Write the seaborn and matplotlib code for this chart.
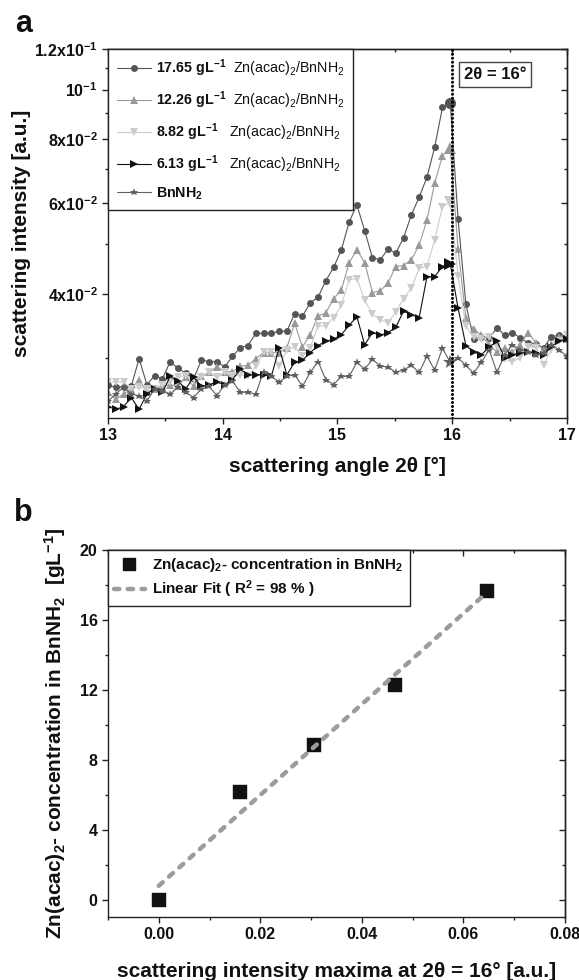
import numpy as np
import matplotlib
matplotlib.use("Agg")
import matplotlib.pyplot as plt
import seaborn as sns
from matplotlib.lines import Line2D
from matplotlib.ticker import FixedLocator, FixedFormatter, NullFormatter

# ---------------- data: panel a ----------------
angle = [13.000, 13.068, 13.136, 13.203, 13.271, 13.339, 13.407, 13.475, 13.542, 13.610,
         13.678, 13.746, 13.814, 13.881, 13.949, 14.017, 14.085, 14.153, 14.220, 14.288,
         14.356, 14.424, 14.492, 14.559, 14.627, 14.695, 14.763, 14.831, 14.898, 14.966,
         15.034, 15.102, 15.169, 15.237, 15.305, 15.373, 15.441, 15.508, 15.576, 15.644,
         15.712, 15.780, 15.847, 15.915, 15.983, 16.051, 16.119, 16.186, 16.254, 16.322,
         16.390, 16.458, 16.525, 16.593, 16.661, 16.729, 16.797, 16.864, 16.932, 17.000]

c1765 = [0.0265, 0.0263, 0.0263, 0.0264, 0.0299, 0.0266, 0.0277, 0.0273, 0.0295, 0.0286,
         0.0280, 0.0273, 0.0297, 0.0295, 0.0295, 0.0288, 0.0302, 0.0314, 0.0317, 0.0335,
         0.0335, 0.0335, 0.0338, 0.0338, 0.0366, 0.0362, 0.0384, 0.0394, 0.0424, 0.0450,
         0.0487, 0.0552, 0.0596, 0.0531, 0.0470, 0.0466, 0.0489, 0.0480, 0.0514, 0.0570,
         0.0617, 0.0675, 0.0772, 0.0923, 0.0940, 0.0560, 0.0382, 0.0326, 0.0330, 0.0328,
         0.0343, 0.0332, 0.0336, 0.0328, 0.0321, 0.0319, 0.0314, 0.0330, 0.0332, 0.0326]

c1226 = [0.0257, 0.0249, 0.0255, 0.0261, 0.0272, 0.0257, 0.0261, 0.0264, 0.0266, 0.0264,
         0.0275, 0.0264, 0.0276, 0.0281, 0.0288, 0.0282, 0.0282, 0.0289, 0.0290, 0.0299,
         0.0307, 0.0307, 0.0307, 0.0314, 0.0350, 0.0315, 0.0333, 0.0362, 0.0367, 0.0391,
         0.0407, 0.0460, 0.0487, 0.0460, 0.0402, 0.0405, 0.0420, 0.0452, 0.0454, 0.0466,
         0.0498, 0.0557, 0.0657, 0.0743, 0.0769, 0.0489, 0.0359, 0.0341, 0.0332, 0.0318,
         0.0308, 0.0314, 0.0308, 0.0318, 0.0336, 0.0321, 0.0311, 0.0318, 0.0330, 0.0332]

c882 = [0.0269, 0.0269, 0.0269, 0.0261, 0.0263, 0.0261, 0.0261, 0.0266, 0.0269, 0.0275,
        0.0277, 0.0272, 0.0275, 0.0281, 0.0275, 0.0281, 0.0276, 0.0278, 0.0276, 0.0289,
        0.0308, 0.0308, 0.0289, 0.0311, 0.0315, 0.0302, 0.0314, 0.0346, 0.0346, 0.0359,
        0.0380, 0.0426, 0.0428, 0.0389, 0.0365, 0.0356, 0.0351, 0.0369, 0.0391, 0.0411,
        0.0448, 0.0452, 0.0509, 0.0591, 0.0603, 0.0434, 0.0346, 0.0329, 0.0326, 0.0330,
        0.0315, 0.0298, 0.0295, 0.0300, 0.0315, 0.0314, 0.0291, 0.0311, 0.0323, 0.0333]

c613 = [0.0241, 0.0238, 0.0241, 0.0251, 0.0238, 0.0255, 0.0261, 0.0257, 0.0276, 0.0270,
        0.0261, 0.0275, 0.0264, 0.0266, 0.0269, 0.0266, 0.0272, 0.0285, 0.0278, 0.0278,
        0.0278, 0.0276, 0.0314, 0.0278, 0.0294, 0.0297, 0.0307, 0.0317, 0.0323, 0.0326,
        0.0333, 0.0347, 0.0361, 0.0318, 0.0336, 0.0332, 0.0336, 0.0344, 0.0370, 0.0364,
        0.0359, 0.0432, 0.0432, 0.0452, 0.0458, 0.0375, 0.0317, 0.0308, 0.0304, 0.0315,
        0.0323, 0.0300, 0.0304, 0.0307, 0.0308, 0.0307, 0.0304, 0.0315, 0.0324, 0.0326]

bnnh2 = [0.0247, 0.0255, 0.0263, 0.0255, 0.0253, 0.0247, 0.0261, 0.0259, 0.0255, 0.0263,
         0.0257, 0.0251, 0.0261, 0.0264, 0.0253, 0.0266, 0.0270, 0.0257, 0.0257, 0.0255,
         0.0282, 0.0276, 0.0269, 0.0276, 0.0278, 0.0264, 0.0281, 0.0295, 0.0272, 0.0266,
         0.0276, 0.0276, 0.0294, 0.0285, 0.0298, 0.0289, 0.0288, 0.0281, 0.0284, 0.0290,
         0.0281, 0.0302, 0.0284, 0.0313, 0.0294, 0.0300, 0.0290, 0.0280, 0.0294, 0.0311,
         0.0281, 0.0304, 0.0318, 0.0311, 0.0308, 0.0304, 0.0307, 0.0318, 0.0311, 0.0302]

series_labels = [r"$\mathbf{17.65\ gL^{-1}}$  Zn(acac)$_2$/BnNH$_2$",
                 r"$\mathbf{12.26\ gL^{-1}}$  Zn(acac)$_2$/BnNH$_2$",
                 r"$\mathbf{8.82\ gL^{-1}}$   Zn(acac)$_2$/BnNH$_2$",
                 r"$\mathbf{6.13\ gL^{-1}}$   Zn(acac)$_2$/BnNH$_2$",
                 r"$\mathbf{BnNH_2}$"]
peak_angle = 16.0
xticks_a = [13, 14, 15, 16, 17]
xminor_a = [13.5, 14.5, 15.5, 16.5]
yticks_a = [0.04, 0.06, 0.08, 0.10, 0.12]
yticklabels_a = [r"4x10$^{-2}$", r"6x10$^{-2}$", r"8x10$^{-2}$", r"10$^{-1}$", r"1.2x10$^{-1}$"]
yminor_a = [0.03, 0.05, 0.07, 0.09, 0.11]

# ---------------- data: panel b ----------------
intensity_max = [0.0, 0.0160, 0.0305, 0.0465, 0.0646]
concentration = [0.0, 6.13, 8.82, 12.26, 17.65]
xticks_b = [0.00, 0.02, 0.04, 0.06, 0.08]
xminor_b = [-0.01, 0.01, 0.03, 0.05, 0.07]
yticks_b = [0, 4, 8, 12, 16, 20]
yminor_b = [2, 6, 10, 14, 18]

# ---------------- style ----------------
sns.set_theme(style="ticks")
plt.rcParams.update({
    "font.family": ["Liberation Sans", "DejaVu Sans"],
    "font.weight": "bold",
    "axes.labelweight": "bold",
    "mathtext.fontset": "custom",
    "mathtext.rm": "Liberation Sans",
    "mathtext.bf": "Liberation Sans:bold",
    "mathtext.it": "Liberation Sans:italic",
    "mathtext.sf": "Liberation Sans",
    "mathtext.default": "regular",
    "axes.edgecolor": "#222222",
    "axes.linewidth": 1.0,
    "xtick.color": "#222222",
    "ytick.color": "#222222",
    "xtick.labelcolor": "#111111",
    "ytick.labelcolor": "#111111",
    "xtick.major.size": 4, "ytick.major.size": 4,
    "xtick.minor.size": 2.5, "ytick.minor.size": 2.5,
    "xtick.major.width": 1.0, "ytick.major.width": 1.0,
    "xtick.minor.width": 1.0, "ytick.minor.width": 1.0,
    "text.color": "#111111",
    "axes.labelcolor": "#111111",
})

fig = plt.figure(figsize=(5.79, 9.8), dpi=100)
ax1 = fig.add_axes([0.1865, 0.5735, 0.7927, 0.3765])
ax2 = fig.add_axes([0.1865, 0.0643, 0.7893, 0.3745])

# ---------------- panel a ----------------
styles = [(c1765, "o", "#555555", 5.0),
          (c1226, "^", "#999999", 5.4),
          (c882, "v", "#cccccc", 5.4),
          (c613, ">", "#111111", 5.4),
          (bnnh2, "*", "#5f5f5f", 6.2)]
ang = np.array(angle)
ipk = int(np.argmin(np.abs(ang - peak_angle)))
for (vals, mk, col, ms), lab in zip(styles, series_labels):
    sns.lineplot(x=angle, y=vals, ax=ax1, color=col, marker=mk, markersize=ms,
                 markeredgewidth=0, linewidth=0.8, label=lab, sort=False)
    ax1.plot(angle[ipk], vals[ipk], marker=mk, color=col, markersize=ms * 1.6,
             markeredgewidth=0, linestyle="none")

ax1.axvline(peak_angle, color="black", lw=2.2, ls=(0, (0.01, 1.3)),
            dash_capstyle="round", zorder=5)

ax1.set_yscale("log")
ax1.set_xlim(13, 17)
ax1.set_ylim(0.0229, 0.12)
ax1.xaxis.set_major_locator(FixedLocator(xticks_a))
ax1.xaxis.set_minor_locator(FixedLocator(xminor_a))
ax1.yaxis.set_major_locator(FixedLocator(yticks_a))
ax1.yaxis.set_major_formatter(FixedFormatter(yticklabels_a))
ax1.yaxis.set_minor_locator(FixedLocator(yminor_a))
ax1.yaxis.set_minor_formatter(NullFormatter())
ax1.tick_params(axis="both", which="major", labelsize=11.5)

top1 = ax1.secondary_xaxis("top")
top1.xaxis.set_major_locator(FixedLocator(xticks_a))
top1.xaxis.set_minor_locator(FixedLocator(xminor_a))
top1.xaxis.set_major_formatter(NullFormatter())
top1.tick_params(which="both", direction="in")
right1 = ax1.secondary_yaxis("right")
right1.yaxis.set_major_locator(FixedLocator(yticks_a))
right1.yaxis.set_minor_locator(FixedLocator(yminor_a))
right1.yaxis.set_major_formatter(NullFormatter())
right1.yaxis.set_minor_formatter(NullFormatter())
right1.tick_params(which="both", direction="in")

ax1.set_xlabel("scattering angle 2θ [°]", fontsize=15, labelpad=10)
ax1.set_ylabel("scattering intensity [a.u.]", fontsize=15, labelpad=2)

leg1 = ax1.legend(loc="upper left", bbox_to_anchor=(0, 1), borderaxespad=0,
                  prop={"family": "Liberation Sans", "weight": "normal", "size": 10.3},
                  handlelength=2.4, handletextpad=0.35, labelspacing=0.72,
                  borderpad=0.6, fancybox=False, framealpha=1, edgecolor="#222222")
leg1.get_frame().set_linewidth(1.0)

ax1.text(0.843, 0.932, "2θ = 16°", transform=ax1.transAxes, ha="center", va="center",
         fontsize=12, fontweight="bold",
         bbox=dict(boxstyle="square,pad=0.3", fc="white", ec="#444444", lw=1.0))

# ---------------- panel b ----------------
sns.scatterplot(x=intensity_max, y=concentration, ax=ax2, marker="s", s=90,
                color="#111111", edgecolor="#111111", linewidth=0.3, zorder=2)
sns.regplot(x=np.array(intensity_max), y=np.array(concentration), ax=ax2, scatter=False,
            ci=None, truncate=True,
            line_kws=dict(color="#9c9c9c", lw=3.2, ls=(0, (1.2, 1.9)),
                          dash_capstyle="round", zorder=3))

ax2.set_xlim(-0.01, 0.08)
ax2.set_ylim(-1, 20)
ax2.xaxis.set_major_locator(FixedLocator(xticks_b))
ax2.xaxis.set_major_formatter(FixedFormatter([f"{v:.2f}" for v in xticks_b]))
ax2.xaxis.set_minor_locator(FixedLocator(xminor_b))
ax2.yaxis.set_major_locator(FixedLocator(yticks_b))
ax2.yaxis.set_major_formatter(FixedFormatter([str(v) for v in yticks_b]))
ax2.yaxis.set_minor_locator(FixedLocator(yminor_b))
ax2.tick_params(axis="both", which="major", labelsize=11.5)

top2 = ax2.secondary_xaxis("top")
top2.xaxis.set_major_locator(FixedLocator(xticks_b))
top2.xaxis.set_minor_locator(FixedLocator(xminor_b))
top2.xaxis.set_major_formatter(NullFormatter())
top2.tick_params(which="both", direction="in")
right2 = ax2.secondary_yaxis("right")
right2.yaxis.set_major_locator(FixedLocator(yticks_b))
right2.yaxis.set_minor_locator(FixedLocator(yminor_b))
right2.yaxis.set_major_formatter(NullFormatter())
right2.tick_params(which="both", direction="in")

ax2.set_xlabel("scattering intensity maxima at 2θ = 16° [a.u.]", fontsize=15, labelpad=14)
ax2.set_ylabel(r"Zn(acac)$_2$- concentration in BnNH$_2$  [gL$^{-1}$]", fontsize=15, labelpad=8)

handles_b = [Line2D([], [], marker="s", ls="none", color="#111111", markersize=9),
             Line2D([], [], color="#9c9c9c", lw=3.2, ls=(0, (1.2, 1.9)), dash_capstyle="round")]
labels_b = [r"Zn(acac)$_2$- concentration in BnNH$_2$", r"Linear Fit ( R$^2$ = 98 % )"]
leg2 = ax2.legend(handles_b, labels_b, loc="upper left", bbox_to_anchor=(0, 1),
                  borderaxespad=0, prop={"weight": "bold", "size": 11},
                  handlelength=2.0, handletextpad=0.5, labelspacing=0.3,
                  borderpad=0.4, fancybox=False, framealpha=1, edgecolor="#222222")
leg2.get_frame().set_linewidth(1.0)

fig.text(0.041, 0.976, "a", fontsize=22, fontweight="bold", ha="center", va="center")
fig.text(0.041, 0.477, "b", fontsize=22, fontweight="bold", ha="center", va="center")

fig.savefig("out.png", dpi=100)
